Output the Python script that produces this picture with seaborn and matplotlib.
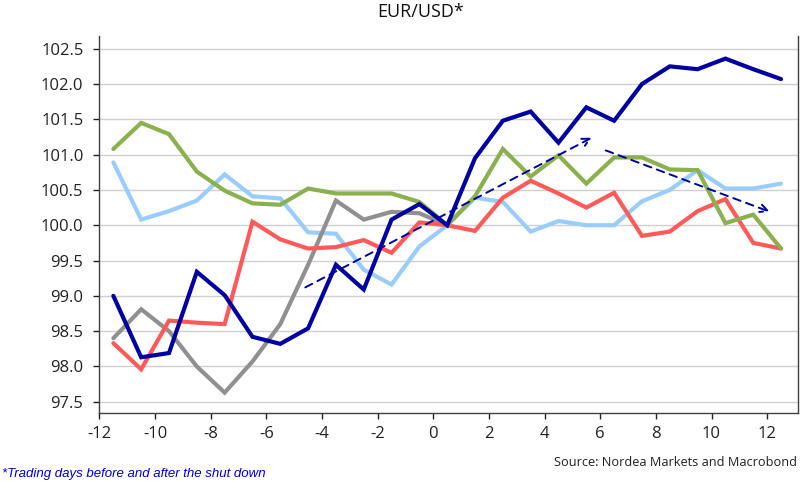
import numpy as np
import pandas as pd
import matplotlib
matplotlib.use("Agg")
import matplotlib.pyplot as plt
import seaborn as sns

# Trading days before/after the shut down (half-day offsets)
days = [-11.5, -10.5, -9.5, -8.5, -7.5, -6.5, -5.5, -4.5, -3.5, -2.5, -1.5, -0.5,
        0.5, 1.5, 2.5, 3.5, 4.5, 5.5, 6.5, 7.5, 8.5, 9.5, 10.5, 11.5, 12.5]

navy = [99.00, 98.13, 98.19, 99.34, 99.01, 98.42, 98.32, 98.54, 99.44, 99.09, 100.08, 100.30,
        100.00, 100.95, 101.48, 101.61, 101.17, 101.67, 101.48, 102.00, 102.25, 102.21, 102.36, 102.21, 102.07]
green = [101.08, 101.45, 101.29, 100.76, 100.49, 100.31, 100.29, 100.52, 100.45, 100.45, 100.45, 100.33,
         100.00, 100.41, 101.08, 100.69, 100.99, 100.59, 100.96, 100.96, 100.79, 100.78, 100.03, 100.15, 99.67]
light_blue = [100.89, 100.08, 100.20, 100.35, 100.72, 100.41, 100.38, 99.90, 99.88, 99.37, 99.16, 99.70,
              100.00, 100.39, 100.33, 99.91, 100.06, 100.00, 100.00, 100.34, 100.50, 100.78, 100.52, 100.52, 100.59]
red = [98.33, 97.96, 98.65, 98.62, 98.60, 100.05, 99.80, 99.67, 99.69, 99.79, 99.61, 100.04,
       100.00, 99.92, 100.39, 100.63, 100.45, 100.25, 100.46, 99.85, 99.91, 100.20, 100.37, 99.75, 99.67]
gray = [98.40, 98.81, 98.50, 98.00, 97.63, 98.07, 98.60, 99.44, 100.35, 100.08, 100.19, 100.17,
        100.00]

# trend arrows (start, end)
arrow_up = [(-4.6, 99.12), (5.7, 101.24)]
arrow_down = [(6.2, 101.06), (12.1, 100.19)]

sns.set_style("white")
plt.rcParams["font.family"] = ["Open Sans", "DejaVu Sans"]
plt.rcParams["axes.unicode_minus"] = False

fig = plt.figure(figsize=(8.02, 4.9), dpi=100)
ax = fig.add_axes([0.124, 0.157, 0.8707, 0.7695])

series = [
    ("light_blue", light_blue, "#99CCFF"),
    ("gray", gray, "#909090"),
    ("red", red, "#FF5A5A"),
    ("green", green, "#8BB04E"),
    ("navy", navy, "#0000A0"),
]
for name, vals, col in series:
    df = pd.DataFrame({"day": days[:len(vals)], "value": vals})
    sns.lineplot(data=df, x="day", y="value", ax=ax, color=col, lw=3.0,
                 solid_joinstyle="miter", legend=False)

for (x0, y0), (x1, y1) in [arrow_up, arrow_down]:
    ax.annotate("", xy=(x1, y1), xytext=(x0, y0),
                arrowprops=dict(arrowstyle="->", color="#0000A0", lw=1.4,
                                linestyle=(0, (4, 3)), mutation_scale=14,
                                shrinkA=0, shrinkB=0))

ax.set_xlim(-12, 13.1)
ax.set_ylim(97.34, 102.68)
ax.set_xticks(np.arange(-12, 13, 2))
ax.set_yticks(np.arange(97.5, 102.6, 0.5))
ax.set_yticklabels([f"{v:.1f}" for v in np.arange(97.5, 102.6, 0.5)])
ax.grid(axis="y", color="#D0D0D0", lw=1.0)
ax.set_axisbelow(True)
ax.set_xlabel("")
ax.set_ylabel("")

for side in ["left", "bottom", "right"]:
    ax.spines[side].set_color("#404040")
    ax.spines[side].set_linewidth(1.0)
ax.spines["top"].set_visible(False)

ax.tick_params(axis="both", labelsize=12, colors="#222222", length=4.5, width=1.0,
               direction="out")
ax.tick_params(axis="y", pad=7)
ax.tick_params(axis="x", pad=5)
ax.tick_params(left=True, bottom=True)

fig.text(0.525, 0.975, "EUR/USD*", ha="center", va="center", fontsize=13, color="#111111")
fig.text(0.003, 0.033, "*Trading days before and after the shut down", ha="left", va="center",
         fontsize=9.5, style="italic", color="#0000CC", family=["Liberation Sans", "DejaVu Sans"])
fig.text(0.994, 0.057, "Source: Nordea Markets and Macrobond", ha="right", va="center",
         fontsize=9.2, color="#222222")

fig.savefig("out.png", dpi=100)
